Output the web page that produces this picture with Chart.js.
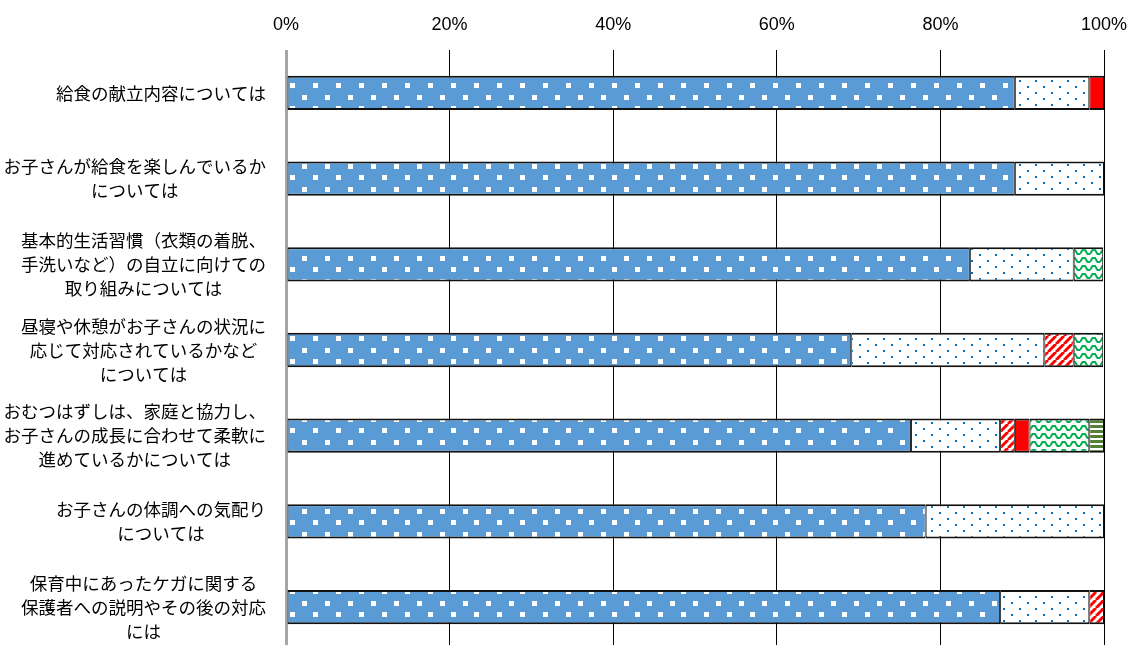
<!DOCTYPE html>
<html>
<head>
<meta charset="utf-8">
<script src="https://cdn.jsdelivr.net/npm/chart.js@4/dist/chart.umd.min.js"></script>
<style>
  html, body { margin: 0; padding: 0; background: #fff; overflow: hidden; }
  #wrap { width: 1143px; height: 650px; }
</style>
</head>
<body>
<div id="wrap"><canvas id="myChart" width="1143" height="650"></canvas></div>
<script>
// categories (each one is a list of lines)
var categories = [
  ['給食の献立内容については'],
  ['お子さんが給食を楽しんでいるか', 'については'],
  ['基本的生活習慣（衣類の着脱、', '手洗いなど）の自立に向けての', '取り組みについては'],
  ['昼寝や休憩がお子さんの状況に', '応じて対応されているかなど', 'については'],
  ['おむつはずしは、家庭と協力し、', 'お子さんの成長に合わせて柔軟に', '進めているかについては'],
  ['お子さんの体調への気配り', 'については'],
  ['保育中にあったケガに関する', '保護者への説明やその後の対応', 'には']
];

// series values (%)
var seriesNames = ['とても満足', '満足', 'やや不満', '不満', 'わからない', '無回答'];
var verySatisfied = [89.1, 89.1, 83.6, 69.1, 76.4, 78.2, 87.3];
var satisfied     = [9.1, 10.9, 12.7, 23.6, 10.9, 21.8, 10.9];
var slightlyBad   = [0, 0, 0, 3.6, 1.8, 0, 1.8];
var bad           = [1.8, 0, 0, 0, 1.8, 0, 0];
var unknown       = [0, 0, 3.6, 3.6, 7.3, 0, 0];
var noAnswer      = [0, 0, 0, 0, 1.8, 0, 0];

var xTicks = [0, 20, 40, 60, 80, 100];

// pattern tiles
function tile(w, h, draw) {
  var c = document.createElement('canvas');
  c.width = w; c.height = h;
  var g = c.getContext('2d');
  draw(g);
  return document.createElement('canvas').getContext('2d').createPattern(c, 'repeat');
}

var bluePattern = tile(23, 23, function(g){
  g.fillStyle = '#5B9BD5'; g.fillRect(0, 0, 23, 23);
  g.fillStyle = '#fff';
  g.fillRect(3, 3, 5, 5);
  g.fillRect(14, 14, 5, 5);
});
var dotPattern = tile(16, 12, function(g){
  g.fillStyle = '#fff'; g.fillRect(0, 0, 16, 12);
  g.fillStyle = '#0070C0';
  g.fillRect(3, 2, 2, 2);
  g.fillRect(11, 8, 2, 2);
});
var stripePattern = tile(8, 8, function(g){
  g.fillStyle = '#fff'; g.fillRect(0, 0, 8, 8);
  g.strokeStyle = '#FF0000'; g.lineWidth = 3;
  for (var i = -8; i <= 16; i += 8) {
    g.beginPath(); g.moveTo(i, 8); g.lineTo(i + 8, 0); g.stroke();
  }
});
var wavePattern = tile(10, 8, function(g){
  g.fillStyle = '#fff'; g.fillRect(0, 0, 10, 8);
  g.strokeStyle = '#00B050'; g.lineWidth = 2;
  g.beginPath(); g.moveTo(0, 6); g.lineTo(2.5, 2); g.lineTo(5, 2); g.lineTo(7.5, 6); g.lineTo(10, 6); g.stroke();
});
var hlinePattern = tile(4, 5, function(g){
  g.fillStyle = '#fff'; g.fillRect(0, 0, 4, 5);
  g.fillStyle = '#548235'; g.fillRect(0, 0, 4, 3);
});

var fills = [bluePattern, dotPattern, stripePattern, '#FF0000', wavePattern, hlinePattern];
var values = [verySatisfied, satisfied, slightlyBad, bad, unknown, noAnswer];

var datasets = values.map(function(v, i){
  return {
    label: seriesNames[i],
    data: v,
    backgroundColor: fills[i],
    borderColor: '#111',
    borderWidth: {top: 2, bottom: 2, left: 1, right: 1},
    borderSkipped: false,
    barPercentage: 0.4,
    categoryPercentage: 1
  };
});

// category labels: block right-aligned, lines centred inside block
var labelPlugin = {
  id: 'catLabels',
  afterDraw: function(chart){
    var ctx = chart.ctx, y = chart.scales.y;
    ctx.save();
    ctx.font = '17.5px "Noto Sans CJK JP"';
    ctx.fillStyle = '#000';
    ctx.textAlign = 'center';
    ctx.textBaseline = 'middle';
    var right = 266, lh = 24;
    categories.forEach(function(lines, i){
      var cy = y.getPixelForTick(i);
      var maxW = 0;
      lines.forEach(function(t){ maxW = Math.max(maxW, ctx.measureText(t).width); });
      var cx = right - maxW / 2;
      lines.forEach(function(t, j){
        ctx.fillText(t, cx, cy + (j - (lines.length - 1) / 2) * lh);
      });
    });
    ctx.restore();
  }
};

var ctx = document.getElementById('myChart').getContext('2d');
var myChart = new Chart(ctx, {
  type: 'bar',
  data: { labels: categories, datasets: datasets },
  options: {
    indexAxis: 'y',
    responsive: false,
    animation: false,
    layout: { padding: { left: 0, right: 39, top: 0, bottom: 0 } },
    plugins: { legend: { display: false }, tooltip: { enabled: false } },
    scales: {
      x: {
        position: 'top',
        stacked: true,
        min: 0, max: 100,
        afterBuildTicks: function(scale){ scale.ticks = xTicks.map(function(v){ return {value: v}; }); },
        afterFit: function(scale){ scale.height = 50; },
        ticks: {
          color: '#000',
          font: { family: '"Liberation Sans Narrow", "Liberation Sans"', size: 18 },
          padding: 14,
          callback: function(v){ return v + '%'; }
        },
        grid: {
          drawTicks: false,
          color: function(c){ return c.index === 0 ? '#A6A6A6' : '#000'; },
          lineWidth: function(c){ return c.index === 0 ? 3 : 1; }
        },
        border: { display: false }
      },
      y: {
        stacked: true,
        afterFit: function(scale){ scale.width = 286; },
        ticks: { display: false },
        grid: { display: false },
        border: { display: false }
      }
    }
  },
  plugins: [labelPlugin]
});
</script>
</body>
</html>
